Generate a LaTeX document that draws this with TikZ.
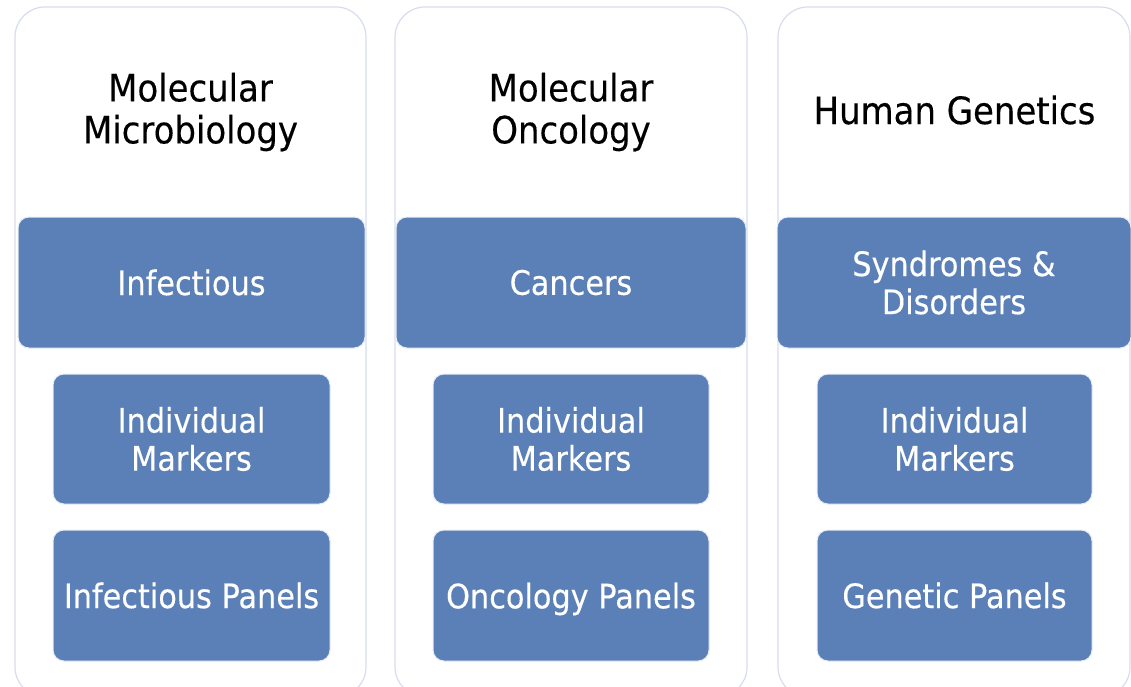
\documentclass[tikz,border=0pt]{standalone}
\usepackage{fontspec}
\setmainfont{DejaVu Sans}[FakeStretch=0.9, FakeBold=0.3]
\definecolor{boxblue}{HTML}{5B80B8}
\definecolor{outerline}{HTML}{D8DDEE}
\newcommand{\nodepth}[1]{\raisebox{0pt}[\height][0pt]{#1}}
\tikzset{
  outerbox/.style={draw=outerline, line width=1.2pt, fill=white, rounded corners=30pt, inner sep=0pt},
  headbox/.style={draw=white!85!boxblue, line width=1pt, fill=boxblue, rounded corners=11pt, inner sep=0pt, minimum height=131pt, text=white, align=center, font=\fontsize{33.7}{38}\selectfont},
  itembox/.style={draw=white!85!boxblue, line width=1pt, fill=boxblue, rounded corners=11pt, inner sep=0pt, minimum height=130pt, text=white, align=center, font=\fontsize{33.7}{38}\selectfont},
  title/.style={align=center, text=black, font=\fontsize{37.7}{42}\selectfont, inner sep=0pt}
}
\begin{document}
\begin{tikzpicture}[x=1pt,y=-1pt]
\useasboundingbox (0,0) rectangle (1131,686);
\clip (0,0) rectangle (1131,686);
% column 1
\node[outerbox, minimum width=351pt, minimum height=690pt] (o1) at (190.5,352) {};
\node[title] (t1) at (190.5,112) {Molecular\\Microbiology};
\node[headbox, minimum width=347pt] (h1) at (191.5,282.5) {Infectious};
\node[itembox, minimum width=277pt] (a1) at (191.5,439) {Individual\\Markers};
\node[itembox, minimum width=277pt, minimum height=131pt] (b1) at (191.5,595.5) {Infectious Panels};
% column 2
\node[outerbox, minimum width=352pt, minimum height=690pt] (o2) at (571,352) {};
\node[title] (t2) at (571,112) {Molecular\\Oncology};
\node[headbox, minimum width=350pt] (h2) at (571,282.5) {Cancers};
\node[itembox, minimum width=276pt] (a2) at (571,439) {Individual\\Markers};
\node[itembox, minimum width=276pt, minimum height=131pt] (b2) at (571,595.5) {\nodepth{Oncology Panels}};
% column 3
\node[outerbox, minimum width=352pt, minimum height=690pt] (o3) at (954,352) {};
\node[title] (t3) at (954.5,110) {Human Genetics};
\node[headbox, minimum width=354pt] (h3) at (954,282.5) {Syndromes \&\\Disorders};
\node[itembox, minimum width=275pt] (a3) at (954.5,439) {Individual\\Markers};
\node[itembox, minimum width=275pt, minimum height=131pt] (b3) at (954.5,595.5) {Genetic Panels};
\end{tikzpicture}
\end{document}
